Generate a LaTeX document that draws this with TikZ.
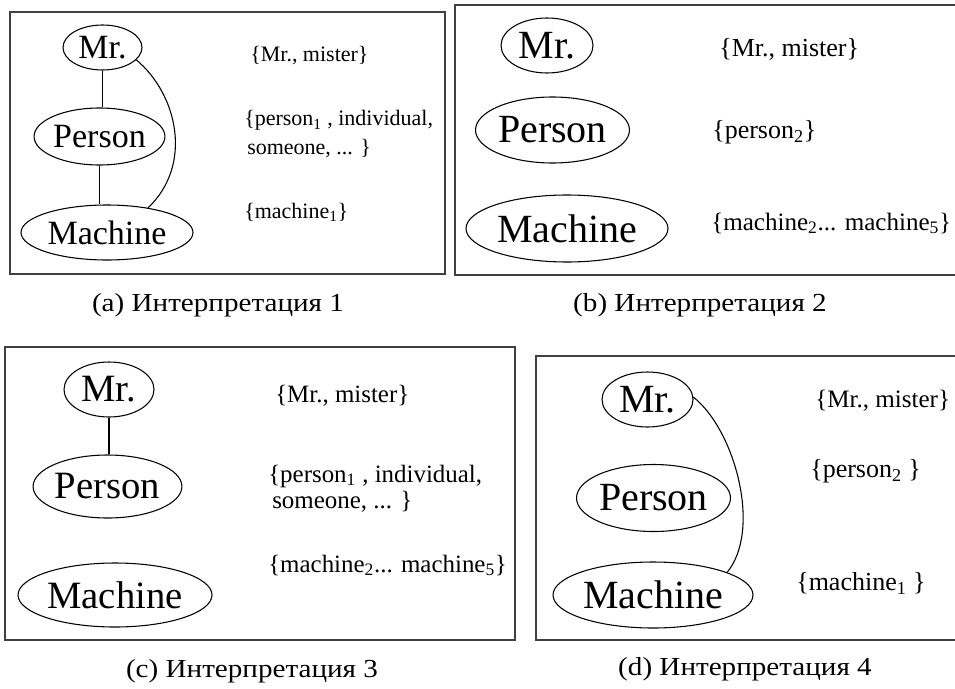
\documentclass[tikz,border=0pt]{standalone}
\usepackage{fontspec}
\setmainfont{Liberation Serif}
\newfontfamily\capfont[FakeStretch=1.12]{Liberation Serif}
\usetikzlibrary{shapes.geometric}
\tikzset{
  ell/.style 2 args={ellipse,draw,line width=0.8pt,inner sep=0pt,
    minimum width={1.5pt*#1},minimum height={1.5pt*#2}},
  panelbox/.style={draw=black!75,line width=1pt},
  conn/.style={line width=0.8pt},
  syn/.style={anchor=base west,inner sep=0pt},
  captext/.style={anchor=base,inner sep=0pt,font=\capfont\fontsize{19.5}{23}\selectfont},
  na/.style={font=\fontsize{25.5}{30}\selectfont},
  ta/.style={font=\fontsize{16.5}{20}\selectfont},
  nb/.style={font=\fontsize{30}{36}\selectfont},
  tb/.style={font=\fontsize{19.5}{23}\selectfont},
  tbs/.style={font=\fontsize{18.8}{22}\selectfont},
  nc/.style={font=\fontsize{29}{35}\selectfont},
  tc/.style={font=\fontsize{18.7}{22}\selectfont},
}
\begin{document}
\begin{tikzpicture}[x=0.75pt,y=-0.75pt]
\useasboundingbox (0,0) rectangle (955,688);
\clip (0,0) rectangle (955,688);
% panels
\draw[panelbox] (10,12) rectangle (445,274);
\draw[panelbox] (455,5) rectangle (965,275);
\draw[panelbox] (5,347) rectangle (515,640);
\draw[panelbox] (536,356) rectangle (965,640);

% (a)
\node[ell={39.5}{22.5},na] (mrA) at (102.5,47.5) {Mr.};
\node[ell={63.5}{28.5},na] (peA) at (99.5,136.5) {Person};
\node[ell={86}{27.5},na] (maA) at (107,232.5) {Machine};
\draw[conn] (mrA.south) -- (mrA.south |- peA.north);
\draw[conn] (peA.south) -- (peA.south |- maA.north);
\draw[conn] (mrA.-20) .. controls (178,95) and (193,165) .. (maA.31);
\node[syn,ta] (ta1) at (250,62) {\{Mr., mister\}};
\node[syn,ta] (ta2) at (244,126) {\{person\textsubscript{1} , individual,};
\node[syn,ta] (ta3) at (247,155) {someone, ... \}};
\node[syn,ta] (ta4) at (244,218) {\{machine\textsubscript{1}\}};
\node[captext] (capA) at (218,311) {(a) Интерпретация 1};

% (b)
\node[ell={46}{27.5},nb] (mrB) at (547,45.5) {Mr.};
\node[ell={74}{33},nb] (peB) at (552.5,130) {Person};
\node[ell={101}{33.5},nb] (maB) at (567,228.5) {Machine};
\node[syn,tb] (tb1) at (719,57) {\{Mr., mister\}};
\node[syn,tb] (tb2) at (712,138) {\{person\textsubscript{2}\}};
\node[syn,tbs] (tb3) at (711,230) {\{machine\textsubscript{2}... machine\textsubscript{5}\}};
\node[captext] (capB) at (700,311) {(b) Интерпретация 2};

% (c)
\node[ell={45}{27.5},nc] (mrC) at (109,389.5) {Mr.};
\node[ell={71}{31.5},nc] (peC) at (107.5,486.5) {Person};
\node[ell={97}{32},nc] (maC) at (115,595) {Machine};
\draw[conn] (mrC.south) -- (mrC.south |- peC.north);
\node[syn,tc] (tc1) at (275,402) {\{Mr., mister\}};
\node[syn,tc] (tc2) at (268,482) {\{person\textsubscript{1} , individual,};
\node[syn,tc] (tc3) at (272,508) {someone, ... \}};
\node[syn,tc] (tc4) at (268,572) {\{machine\textsubscript{2}... machine\textsubscript{5}\}};
\node[captext] (capC) at (252,677) {(c) Интерпретация 3};

% (d)
\node[ell={45.5}{27.5},nb] (mrD) at (647.5,399.5) {Mr.};
\node[ell={73.5}{33.5},nb] (peD) at (653.5,498) {Person};
\node[ell={100}{33},nb] (maD) at (653,595) {Machine};
\draw[conn] (mrD.3) .. controls (735,430) and (762,530) .. (maD.17);
\node[syn,tbs] (td1) at (815,407) {\{Mr., mister\}};
\node[syn,tb] (td2) at (810,477) {\{person\textsubscript{2} \}};
\node[syn,tb] (td3) at (796,590) {\{machine\textsubscript{1} \}};
\node[captext] (capD) at (745,675) {(d) Интерпретация 4};
\end{tikzpicture}
\end{document}
